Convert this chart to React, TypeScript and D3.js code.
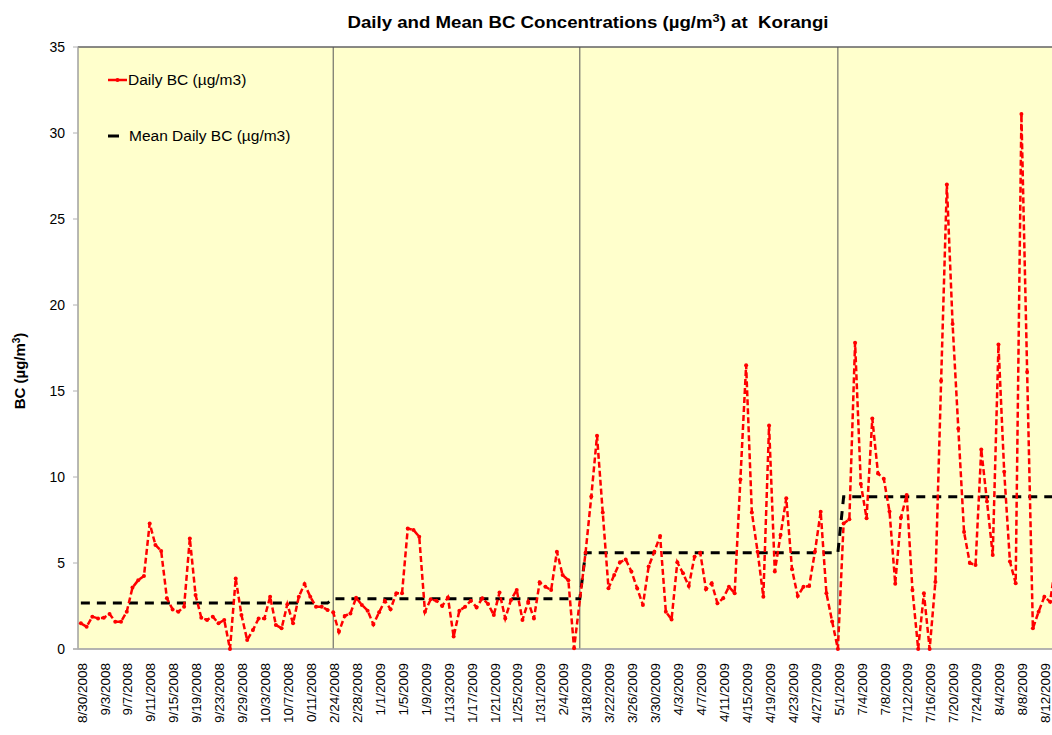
import React from "react";
import * as d3 from "d3";

const tickLabels: string[] = [
  "8/30/2008", "9/3/2008", "9/7/2008", "9/11/2008", "9/15/2008", "9/19/2008", "9/23/2008",
  "9/29/2008", "10/3/2008", "10/7/2008", "0/11/2008", "2/24/2008", "2/28/2008", "1/1/2009",
  "1/5/2009", "1/9/2009", "1/13/2009", "1/17/2009", "1/21/2009", "1/25/2009", "1/31/2009",
  "2/4/2009", "3/18/2009", "3/22/2009", "3/26/2009", "3/30/2009", "4/3/2009", "4/7/2009",
  "4/11/2009", "4/15/2009", "4/19/2009", "4/23/2009", "4/27/2009", "5/1/2009", "7/4/2009",
  "7/8/2009", "7/12/2009", "7/16/2009", "7/20/2009", "7/24/2009", "8/4/2009", "8/8/2009",
  "8/12/2009",
];

// Daily BC, one value per category (null = no reading)
const dailyBC: (number | null)[] = [
  // period 1
  1.49, 1.3, 1.88, 1.78, 1.82, 2.03, 1.59, 1.59, 2.17, 3.57,
  4.0, 4.24, 7.3, 6.05, 5.7, 2.95, 2.3, 2.17, 2.46, 6.43,
  3.14, 1.82, 1.69, 1.88, 1.49, 1.69, 0, 4.1, 1.98, 0.52,
  1.1, 1.78, 1.78, 3.04, 1.4, 1.2, 2.6, 1.49, 3.04, 3.78,
  3.04, 2.46, 2.46, 2.27,
  // period 2
  2.13, 1.0, 1.92, 2.07, 2.98, 2.56, 2.23, 1.43, 2.13, 2.81,
  2.31, 3.24, 3.24, 7.0, 6.92, 6.53, 2.17, 2.89, 2.81, 2.5,
  3.0, 0.72, 2.23, 2.46, 2.81, 2.42, 2.95, 2.62, 1.98, 3.28,
  1.78, 2.85, 3.43, 1.69, 2.75, 1.78, 3.88, 3.62, 3.43, 5.66,
  4.3, 4.0, 0.04, null,
  // period 3
  5.6, 8.86, 12.4, 7.93, 3.53, 4.3, 5.04, 5.21, 4.5, 3.53,
  2.56, 4.79, 5.66, 6.57, 2.17, 1.72, 5.04, 4.4, 3.66, 5.37,
  5.6, 3.47, 3.82, 2.66, 2.95, 3.62, 3.24, 9.86, 16.5, 7.93,
  5.66, 3.04, 13.0, 4.5, 6.63, 8.76, 4.63, 3.08, 3.62, 3.66,
  5.66, 7.98, 3.24, 1.6, 0,
  // period 4
  7.3, 7.54, 17.8, 9.6, 7.6, 13.4, 10.2, 9.9, 8.0, 3.8,
  7.65, 8.95, 3.43, 0, 3.24, 0, 3.9, 15.6, 27.0, 18.9,
  12.8, 6.8, 5.0, 4.88, 11.6, 8.57, 5.47, 17.7, 10.3, 5.08,
  3.82, 31.1, 16.1, 1.2, 2.17, 3.04, 2.75, 5.0,
];

const periodStarts: number[] = [0, 44, 88, 133];
const periodMeans: number[] = [2.67, 2.92, 5.6, 8.85];
const separatorCats: number[] = [44, 87, 132];
const yTicks: number[] = [0, 5, 10, 15, 20, 25, 30, 35];

const NCAT = 173;
const FONT = "'Liberation Sans', Arial, sans-serif";

export default function App() {
  const W = 1052;
  const H = 735;
  const left = 78;
  const top = 47;
  const bottom = 649;
  const step = 5.735;

  const x = d3
    .scaleBand<number>()
    .domain(d3.range(NCAT))
    .range([left, left + NCAT * step])
    .paddingInner(0)
    .paddingOuter(0);
  const cx = (i: number) => (x(i) as number) + x.bandwidth() / 2;
  const y = d3.scaleLinear().domain([0, 35]).range([bottom, top]);

  const dailyPts = dailyBC
    .map((v, i) => ({ i, v }))
    .filter((d) => d.v !== null) as { i: number; v: number }[];

  const meanPts = d3.range(NCAT).map((i) => {
    let p = 0;
    periodStarts.forEach((s, k) => {
      if (i >= s) p = k;
    });
    return { i, v: periodMeans[p] };
  });

  const line = d3
    .line<{ i: number; v: number }>()
    .x((d) => cx(d.i))
    .y((d) => y(d.v));

  return (
    <svg
      width={W}
      height={H}
      style={{ position: "absolute", left: 0, top: 0, background: "#fff" }}
      fontFamily={FONT}
    >
      <defs>
        <clipPath id="plotClip">
          <rect x={left} y={top - 2} width={W - left} height={bottom - top + 4} />
        </clipPath>
      </defs>
      <rect x={0} y={0} width={W} height={H} fill="#fff" />
      {/* title */}
      <text
        x={588}
        y={28}
        textAnchor="middle"
        fontSize={16}
        fontWeight="bold"
        fill="#000"
        textLength={481}
        lengthAdjust="spacingAndGlyphs"
      >
        Daily and Mean BC Concentrations (µg/m
        <tspan baselineShift="super" fontSize={11}>3</tspan>
        <tspan>{") at\u00A0 Korangi"}</tspan>
      </text>

      {/* plot area */}
      <rect x={left} y={top} width={W - left + 20} height={bottom - top} fill="#FFFFCC" stroke="#808080" strokeWidth={1} />
      <line x1={left} y1={top} x2={W} y2={top} stroke="#555" strokeWidth={1.2} />

      {/* separators */}
      {separatorCats.map((c) => (
        <line key={c} x1={cx(c)} x2={cx(c)} y1={top} y2={bottom} stroke="#555" strokeWidth={1} />
      ))}

      {/* y axis */}
      <line x1={left} x2={left} y1={top} y2={bottom} stroke="#b0b0b0" strokeWidth={1} />
      {yTicks.map((t) => (
        <g key={t}>
          <line x1={left - 5} x2={left} y1={y(t)} y2={y(t)} stroke="#b0b0b0" />
          <text x={left - 13} y={y(t)} dy="0.35em" textAnchor="end" fontSize={14} fill="#000">
            {t}
          </text>
        </g>
      ))}
      <line x1={left - 5} x2={W} y1={bottom} y2={bottom} stroke="#b0b0b0" strokeWidth={1.5} />
      <text
        transform={`translate(25, 371) rotate(-90)`}
        textAnchor="middle"
        fontSize={15}
        fontWeight="bold"
      >
        BC (µg/m<tspan baselineShift="super" fontSize={10}>3</tspan>)
      </text>

      {/* x labels */}
      {tickLabels.map((lab, k) => (
        <text
          key={k}
          transform={`translate(${cx(k * 4) + 1}, 663) rotate(-90)`}
          textAnchor="end"
          dy="0.35em"
          fontSize={13.5}
        >
          {lab}
        </text>
      ))}

      <g clipPath="url(#plotClip)">
        {/* mean line */}
        <path d={line(meanPts) as string} fill="none" stroke="#000" strokeWidth={3} strokeDasharray="9 7" />
        {/* daily line */}
        <path d={line(dailyPts) as string} fill="none" stroke="#FF0000" strokeWidth={2.5} strokeDasharray="6 3" />
        {dailyPts.map((d) => (
          <circle key={d.i} cx={cx(d.i)} cy={y(d.v)} r={2} fill="#FF0000" />
        ))}
      </g>

      {/* legend */}
      <line x1={108} x2={127} y1={80} y2={80} stroke="#FF0000" strokeWidth={2.5} />
      <circle cx={117.5} cy={80} r={2} fill="#FF0000" />
      <text x={128} y={80} dy="0.35em" fontSize={15.5}>Daily BC (µg/m3)</text>
      <line x1={108} x2={119} y1={136} y2={136} stroke="#000" strokeWidth={3} />
      <text x={129} y={136} dy="0.35em" fontSize={15.5}>Mean Daily BC (µg/m3)</text>
    </svg>
  );
}
